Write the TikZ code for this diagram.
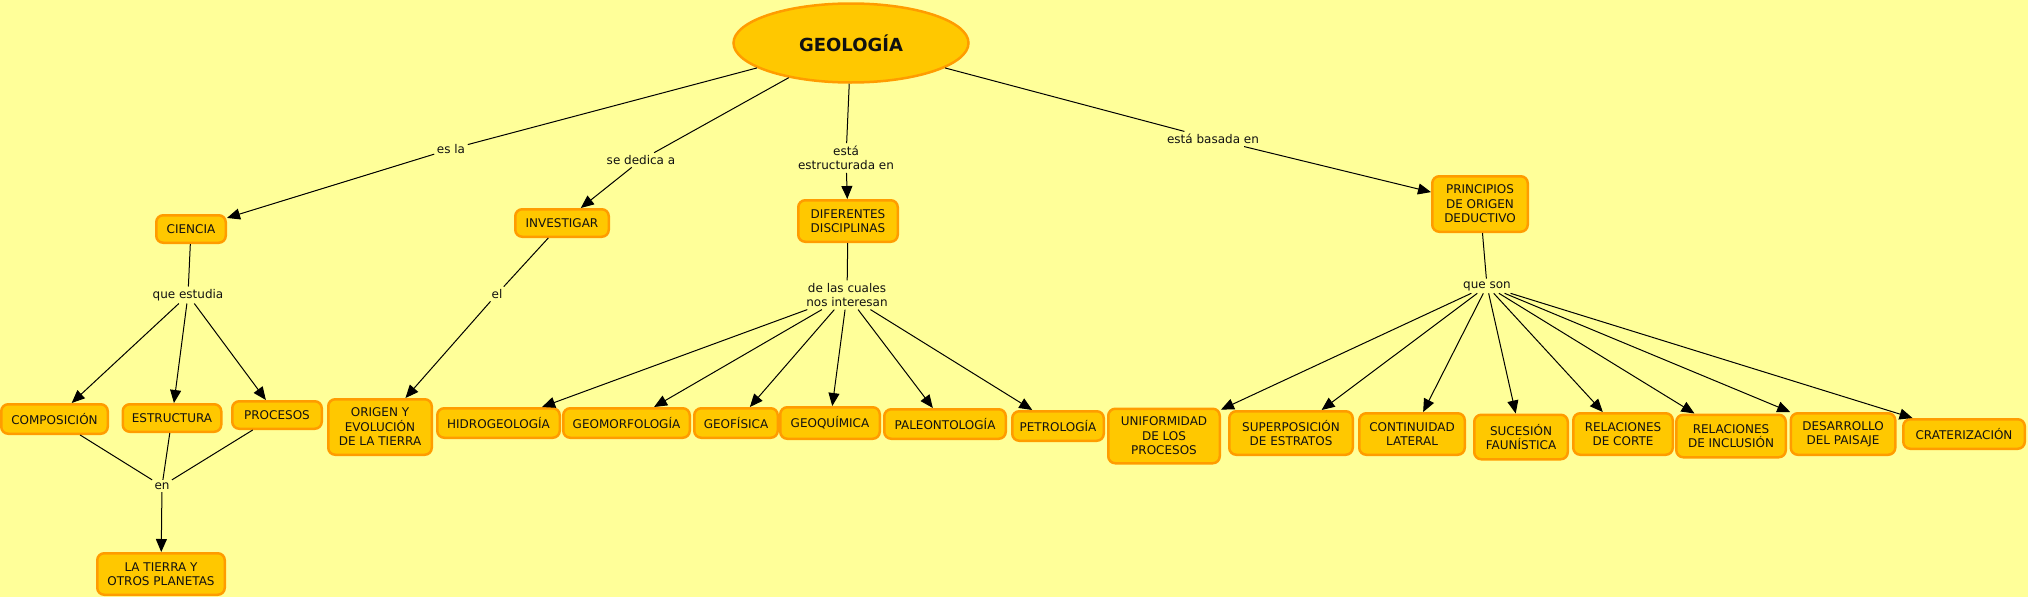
\documentclass[tikz,border=0pt]{standalone}
\usepackage{fontspec}
\setmainfont{DejaVu Sans}
\newfontfamily\cfontfam{DejaVu Sans}
\usetikzlibrary{arrows.meta,shapes.geometric}
\definecolor{bgc}{HTML}{FFFF99}
\definecolor{fillc}{HTML}{FFC800}
\definecolor{bordc}{HTML}{FF9C00}
\definecolor{txtc}{HTML}{111111}
\newcommand{\cfont}{\cfontfam\fontsize{12}{14.5}\selectfont}
\tikzset{
  concept/.style={draw=bordc, fill=fillc, line width=2.5pt, rounded corners=7pt,
    align=center, font=\cfont, text=txtc, inner sep=0pt},
  linkph/.style={font=\cfont, align=center, inner sep=2.5pt, text=txtc},
  conn/.style={line width=1pt, draw=black},
  arr/.style={conn, -{Triangle[length=13pt,width=11pt]}},
}
\begin{document}
\begin{tikzpicture}[x=1pt,y=-1pt]
\fill[bgc] (0,0) rectangle (2028,597);
\useasboundingbox (0,0) rectangle (2028,597);

% main concept
\node[ellipse, draw=bordc, fill=fillc, line width=2.5pt, minimum width=235pt, minimum height=79pt,
  inner sep=0pt, font=\cfontfam\bfseries\fontsize{18}{21}\selectfont, text=txtc] (geo) at (851,43) {GEOLOGÍA};

% second level
\node[concept, minimum width=69.5pt, minimum height=27.5pt] (ciencia) at (191,229) {CIENCIA};
\node[concept, minimum width=93.5pt, minimum height=27.5pt] (investigar) at (562,223) {INVESTIGAR};
\node[concept, minimum width=99.5pt, minimum height=41.5pt] (diferentes) at (848,221) {DIFERENTES\\DISCIPLINAS};
\node[concept, minimum width=95.5pt, minimum height=55.5pt] (principios) at (1480,204) {PRINCIPIOS\\DE ORIGEN\\DEDUCTIVO};

% left branch
\node[concept, minimum width=106.5pt, minimum height=29.5pt] (composicion) at (54.5,419) {COMPOSICIÓN};
\node[concept, minimum width=98.5pt, minimum height=27.5pt] (estructura) at (172,418) {ESTRUCTURA};
\node[concept, minimum width=89.5pt, minimum height=27.5pt] (procesos) at (277,415) {PROCESOS};
\node[concept, minimum width=127.5pt, minimum height=41.5pt] (tierra) at (161,574) {LA TIERRA Y\\OTROS PLANETAS};
\node[concept, minimum width=103.5pt, minimum height=55.5pt] (origen) at (380,427) {ORIGEN Y\\EVOLUCIÓN\\DE LA TIERRA};

% disciplines
\node[concept, minimum width=122.5pt, minimum height=29.5pt] (hidro) at (498.5,423) {HIDROGEOLOGÍA};
\node[concept, minimum width=126.5pt, minimum height=29.5pt] (geomorfo) at (626.5,423) {GEOMORFOLOGÍA};
\node[concept, minimum width=83.5pt, minimum height=29.5pt] (geofisica) at (736,423) {GEOFÍSICA};
\node[concept, minimum width=99.5pt, minimum height=31.5pt] (geoquimica) at (830,423) {GEOQUÍMICA};
\node[concept, minimum width=121.5pt, minimum height=29.5pt] (paleo) at (945,424) {PALEONTOLOGÍA};
\node[concept, minimum width=91.5pt, minimum height=29.5pt] (petro) at (1058,426) {PETROLOGÍA};

% principles
\node[concept, minimum width=111.5pt, minimum height=54.5pt] (uniform) at (1164,436) {UNIFORMIDAD\\DE LOS\\PROCESOS};
\node[concept, minimum width=123.5pt, minimum height=43.5pt] (superpos) at (1291,433) {SUPERPOSICIÓN\\DE ESTRATOS};
\node[concept, minimum width=105.5pt, minimum height=41.5pt] (continuidad) at (1412,434) {CONTINUIDAD\\LATERAL};
\node[concept, minimum width=93.5pt, minimum height=44.5pt] (sucesion) at (1521,437) {SUCESIÓN\\FAUNÍSTICA};
\node[concept, minimum width=99.5pt, minimum height=41.5pt] (relcorte) at (1623,434) {RELACIONES\\DE CORTE};
\node[concept, minimum width=109.5pt, minimum height=42.5pt] (relincl) at (1731,436) {RELACIONES\\DE INCLUSIÓN};
\node[concept, minimum width=104.5pt, minimum height=41.5pt] (desarrollo) at (1843,434) {DESARROLLO\\DEL PAISAJE};
\node[concept, minimum width=121.5pt, minimum height=29.5pt] (crater) at (1964,434) {CRATERIZACIÓN};

% linking phrases
\node[linkph] (esla) at (451,149) {es la};
\node[linkph] (sededica) at (641,160) {se dedica a};
\node[linkph] (estruct) at (846,158) {está\\estructurada en};
\node[linkph] (basada) at (1213,139) {está basada en};
\node[linkph] (queestudia) at (188,295) {que estudia};
\node[linkph] (en) at (162,486) {en};
\node[linkph] (el) at (497,294) {el};
\node[linkph] (delas) at (847,295) {de las cuales\\nos interesan};
\node[linkph] (queson) at (1487,286) {que son};

% connectors
\draw[conn] (geo) -- (esla);
\draw[arr] (esla) -- (ciencia);
\draw[conn] (geo) -- (sededica);
\draw[arr] (sededica) -- (investigar);
\draw[conn] (geo) -- (estruct);
\draw[arr] (estruct) -- (diferentes);
\draw[conn] (geo) -- (basada);
\draw[arr] (basada) -- (principios);

\draw[conn] (ciencia) -- (queestudia);
\draw[arr] (queestudia) -- (composicion);
\draw[arr] (queestudia) -- (estructura);
\draw[arr] (queestudia) -- (procesos);
\draw[conn] (composicion) -- (en);
\draw[conn] (estructura) -- (en);
\draw[conn] (procesos) -- (en);
\draw[arr] (en) -- (tierra);

\draw[conn] (investigar) -- (el);
\draw[arr] (el) -- (origen);

\draw[conn] (diferentes) -- (delas);
\foreach \t in {hidro,geomorfo,geofisica,geoquimica,paleo,petro}
  \draw[arr] (delas) -- (\t);

\draw[conn] (principios) -- (queson);
\foreach \t in {uniform,superpos,continuidad,sucesion,relcorte,relincl,desarrollo,crater}
  \draw[arr] (queson) -- (\t);
\end{tikzpicture}
\end{document}
